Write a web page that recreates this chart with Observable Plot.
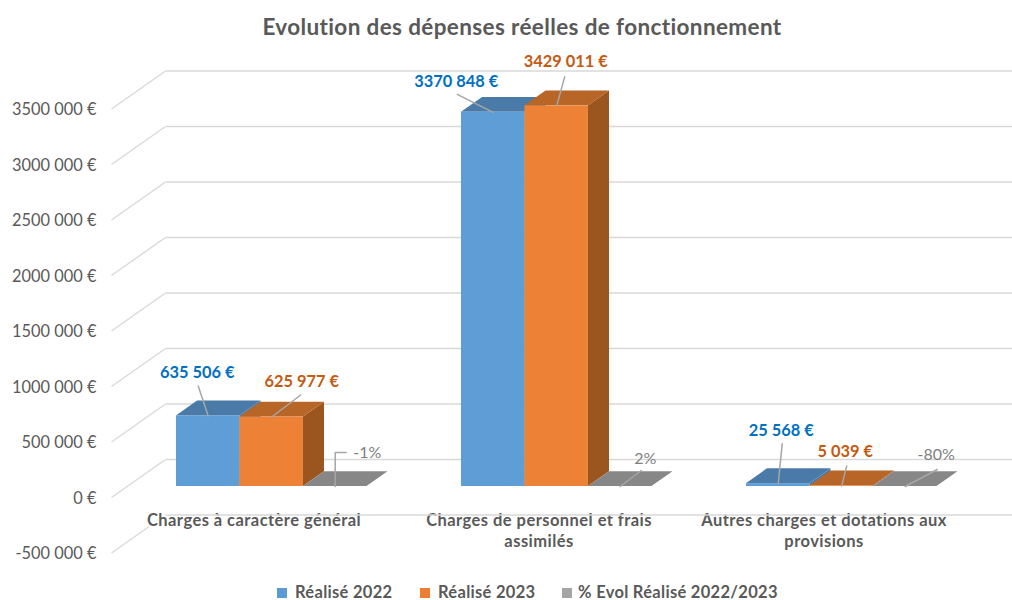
<!DOCTYPE html>
<html lang="fr"><head><meta charset="utf-8">
<script src="https://cdn.jsdelivr.net/npm/d3@7"></script>
<script src="https://cdn.jsdelivr.net/npm/@observablehq/plot@0.6"></script>
<style>
html,body{margin:0;padding:0;background:#fff;width:1012px;height:600px;overflow:hidden;font-family:Lato,sans-serif}
#title{height:50px;line-height:54px;text-align:center;font-size:22.5px;letter-spacing:.37px;font-weight:700;color:#595959;padding-left:32px;box-sizing:border-box}
#chart svg{display:block}
#chart g[font-size="16.5"]{letter-spacing:.45px}
#legend{position:absolute;left:0;top:582px;width:1012px;height:18px;font-size:16.5px;letter-spacing:.3px;font-weight:700;color:#595959}
#legend i{position:absolute;top:6px;width:10px;height:10px}
#legend span{position:absolute;top:2px;line-height:16px;height:16px;white-space:nowrap}
</style></head><body>
<div id="title">Evolution des dépenses réelles de fonctionnement</div>
<div id="chart"></div>
<div id="legend"></div>
<script>
const categories = ["Charges à caractère général", "Charges de personnel et frais\nassimilés", "Autres charges et dotations aux\nprovisions"];
const realise2022 = [635506, 3370848, 25568];
const realise2023 = [625977, 3429011, 5039];
const evolution = [-0.01, 0.02, -0.80];
const evolutionLabels = ["-1%", "2%", "-80%"];
const yTicks = [-500000, 0, 500000, 1000000, 1500000, 2000000, 2500000, 3000000, 3500000];
const seriesNames = ["Réalisé 2022", "Réalisé 2023", "% Evol Réalisé 2022/2023"];

// layout of the pseudo-3D view
const W = 1012, H = 532;
const pxX = 3 / 855, pxY = 500000 / 55.5;
const wallDX = 54 * pxX, wallDY = 38 * pxY;
const barDepth0 = 0.29, barDepth = 0.39;
const barStart = 0.173, barW = 63.5 * pxX;
const colors = [
  {front: "#5F9DD6", top: "#4A7BA8", side: "#4A7BA8", text: "#0070C0"},
  {front: "#ED8136", top: "#B86528", side: "#9B5620", text: "#C55A11"},
  {front: "#878787", top: "#878787", side: "#878787", text: "#7F7F7F"}
];
const legendColors = ["#5B9BD5", "#ED7D31", "#A5A5A5"];
// leader tip and label offsets (px) from the top of each bar
const tipOffsets = [
  [[-10,-30],[29,-22],[11,-34]],
  [[-36,-18],[8,-29],[21,-16]],
  [[4,-40],[5,-20],[32,-17]]
];
const labelOffsets = [
  [[-11,-43.5],[30,-35.5],[32,-34]],
  [[-37,-31],[9,-44],[25,-28]],
  [[3,-53],[3.5,-34],[31,-32]]
];

const euro = n => {
  const a = Math.abs(n), s = n < 0 ? "-" : "";
  if (a < 1000) return `${s}${a} €`;
  return `${s}${Math.floor(a / 1000)} ${String(a % 1000).padStart(3, "0")} €`;
};

const series = [realise2022, realise2023, evolution];
const bars = [];
categories.forEach((c, i) => series.forEach((vals, s) => {
  const v = vals[i];
  const x0 = i + barStart + s * barW + barDepth0 * wallDX;
  const x1 = x0 + barW;
  const base = barDepth0 * wallDY;
  const y = v + base;
  bars.push({i, s, id: `${i}-${s}`, v, x0, x1, base, y, dx: barDepth * wallDX, dy: barDepth * wallDY,
    c: colors[s], cx: (x0 + x1) / 2,
    label: s === 2 ? evolutionLabels[i] : euro(v)});
}));

const marks = [];
// floor diagonals
marks.push(Plot.link(yTicks, {x1: 0, y1: d => d, x2: wallDX, y2: d => d + wallDY, stroke: "#D9D9D9", strokeWidth: 1.4}));
// category labels
marks.push(Plot.text(categories, {
  x: (d, i) => i + 0.5, y: 0, dy: 14, text: d => d, lineAnchor: "top", lineHeight: 1.27,
  fontSize: 16.5, fontWeight: 700, fill: "#595959", stroke: "white", strokeWidth: 4, paintOrder: "stroke"
}));
// back wall lines
marks.push(Plot.link(yTicks, {x1: wallDX, y1: d => d + wallDY, x2: 3 + wallDX, y2: d => d + wallDY, stroke: "#D9D9D9", strokeWidth: 1.4, clip: true}));
// y axis
marks.push(Plot.axisY(yTicks, {anchor: "left", tickSize: 0, tickPadding: 15, dy: 1, tickFormat: euro, fontSize: 16.4, fill: "#595959", label: null}));

bars.forEach(b => {
  marks.push(Plot.area([{x: b.x1, a: b.base, t: b.y}, {x: b.x1 + b.dx, a: b.base + b.dy, t: b.y + b.dy}],
    {x1: "x", y1: "a", y2: "t", fill: b.c.side}));
  marks.push(Plot.area([{y: b.y, a: b.x0, t: b.x1}, {y: b.y + b.dy, a: b.x0 + b.dx, t: b.x1 + b.dx}],
    {y1: "y", x1: "a", x2: "t", fill: b.c.top}));
  marks.push(Plot.rect([b], {x1: "x0", x2: "x1", y1: "base", y2: "y", fill: b.c.front}));
});

// leader lines
const leaders = [];
bars.forEach(b => {
  const t = tipOffsets[b.i][b.s];
  leaders.push({id: b.id, x: b.cx, y: b.y});
  if (b.i === 0 && b.s === 2) leaders.push({id: b.id, x: b.cx, y: b.y - t[1] * pxY});
  leaders.push({id: b.id, x: b.cx + t[0] * pxX, y: b.y - t[1] * pxY});
});
marks.push(Plot.line(leaders, {x: "x", y: "y", z: "id", stroke: "#A6A6A6", strokeWidth: 1.5}));

// data labels
const labelX = b => b.cx + labelOffsets[b.i][b.s][0] * pxX;
const labelY = b => b.y - labelOffsets[b.i][b.s][1] * pxY;
marks.push(Plot.text(bars.filter(b => b.s < 2), {
  x: labelX, y: labelY, text: "label", fontSize: 16.4, fontWeight: 700, fill: b => b.c.text
}));
marks.push(Plot.text(bars.filter(b => b.s === 2), {
  x: labelX, y: labelY, text: "label", fontSize: 16, fontWeight: 400, fill: b => b.c.text
}));

const plot = Plot.plot({
  width: W, height: H, marginLeft: 111, marginRight: 0, marginTop: 0, marginBottom: 0,
  x: {domain: [0, 3], range: [111, 966], axis: null},
  y: {domain: [-500000, 3500000], range: [502.5, 58.5], axis: null},
  style: {fontFamily: "Lato, sans-serif", background: "#fff"},
  marks
});
document.getElementById("chart").append(plot);

// legend
const legend = document.getElementById("legend");
const legendX = [[277, 295], [420, 438], [562, 578]];
seriesNames.forEach((n, i) => {
  const sw = document.createElement("i");
  sw.style.left = legendX[i][0] + "px";
  sw.style.background = legendColors[i];
  const t = document.createElement("span");
  t.style.left = legendX[i][1] + "px";
  t.textContent = n;
  legend.append(sw, t);
});
</script>
</body></html>
